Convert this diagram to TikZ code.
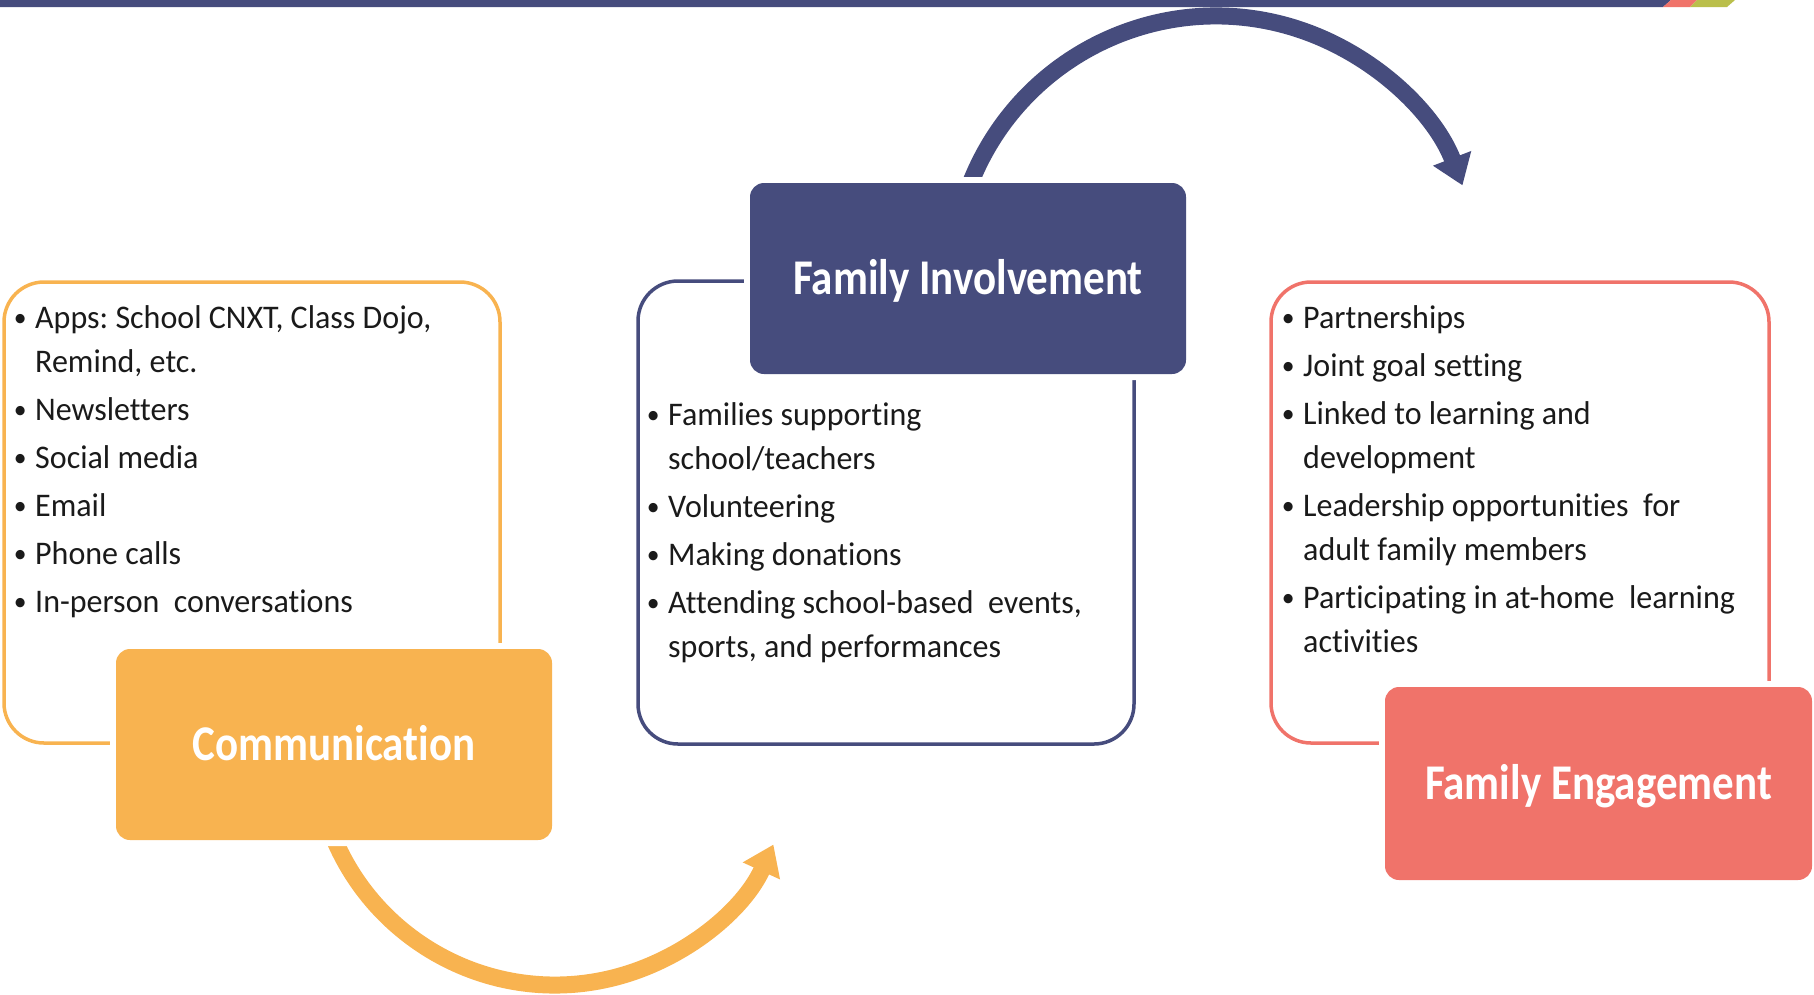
\documentclass[tikz,border=0pt]{standalone}
\usepackage{fontspec}
\setmainfont{Carlito}
\newfontfamily\bodyfont[FakeStretch=0.97,Ligatures=NoCommon]{Carlito}
\newfontfamily\titlefont[FakeStretch=0.86,Ligatures=NoCommon]{Carlito}
\usetikzlibrary{arrows.meta,calc}
\definecolor{corange}{HTML}{F8B350}
\definecolor{cnavy}{HTML}{464C7D}
\definecolor{ccoral}{HTML}{F0736A}
\definecolor{colive}{HTML}{BABF4B}
\definecolor{ctext}{HTML}{1A1A1A}
\newcommand{\bitem}[1]{\par\hangindent=30pt\hangafter=1\noindent\makebox[30pt][c]{\raisebox{1.5pt}{\scalebox{0.8}{•}}}#1}
\newenvironment{bulletblock}{\begin{minipage}[t]{480pt}\frenchspacing\setlength{\parskip}{4pt}\setlength{\parindent}{0pt}}{\end{minipage}}
\begin{document}
\begin{tikzpicture}[x=1pt,y=-1pt,
  outline/.style={line width=3.5pt, rounded corners=40pt, inner sep=0pt},
  titlebox/.style={minimum width=436pt, minimum height=191pt, inner sep=0pt,
    rounded corners=14pt, preaction={draw=white, line width=12pt},
    text=white, font=\titlefont\bfseries\fontsize{50}{60}\selectfont,
    text height=32pt, text depth=0pt},
  bodytext/.style={anchor=base west, inner sep=0pt,
    text=ctext, font=\bodyfont\fontsize{33}{44}\selectfont},
  bigarrow/.style={line width=17pt, -{Triangle[width=39pt,length=29pt]}},
]
\useasboundingbox (0,0) rectangle (1814,994);
% top bar
\fill[cnavy] (0,0) -- (1671,0) -- (1663,7) -- (0,7) -- cycle;
\fill[ccoral] (1671,0) -- (1697,0) -- (1690,7) -- (1663,7) -- cycle;
\fill[colive] (1697,0) -- (1735,0) -- (1727,7) -- (1690,7) -- cycle;
% outline boxes
\node[outline, draw=corange, minimum width=496pt, minimum height=461pt] (lbox) at (252,512.5) {};
\node[outline, draw=cnavy, minimum width=496pt, minimum height=463pt] (mbox) at (886,512.5) {};
\node[outline, draw=ccoral, minimum width=498pt, minimum height=461pt] (rbox) at (1520,512.5) {};
% arrows
\coordinate (oc) at (555,745);
\coordinate (otail) at ($(oc)+(165:240)$);
\draw[bigarrow, corange] (otail) arc[start angle=165, end angle=24.5, radius=240];
\coordinate (nc) at (1216,280);
\coordinate (ntail) at ($(nc)+(200:264)$);
\draw[bigarrow, cnavy] (ntail) arc[start angle=200, end angle=339, radius=264];
% title boxes
\node[titlebox, fill=corange] (comm) at (334,744.5) {Communication};
\node[titlebox, fill=cnavy] (fi) at (968,278.5) {Family Involvement};
\node[titlebox, fill=ccoral, minimum width=427pt, minimum height=193pt] (fe) at (1598.5,783.5) {Family Engagement};
% texts
\node[bodytext] (ltext) at (5,328) {\begin{bulletblock}%
\bitem{Apps: School CNXT, Class Dojo,\\Remind, etc.}%
\bitem{Newsletters}%
\bitem{Social media}%
\bitem{Email}%
\bitem{Phone calls}%
\bitem{In-person\ \ conversations}%
\end{bulletblock}};
\node[bodytext] (mtext) at (638,425) {\begin{bulletblock}%
\bitem{Families supporting\\school/teachers}%
\bitem{Volunteering}%
\bitem{Making donations}%
\bitem{Attending school-based\ \ events,\\sports, and performances}%
\end{bulletblock}};
\node[bodytext] (rtext) at (1273,328) {\begin{bulletblock}%
\bitem{Partnerships}%
\bitem{Joint goal setting}%
\bitem{Linked to learning and\\development}%
\bitem{Leadership opportunities\ \ for\\adult family members}%
\bitem{Participating in at-home\ \ learning\\activities}%
\end{bulletblock}};
\end{tikzpicture}
\end{document}
